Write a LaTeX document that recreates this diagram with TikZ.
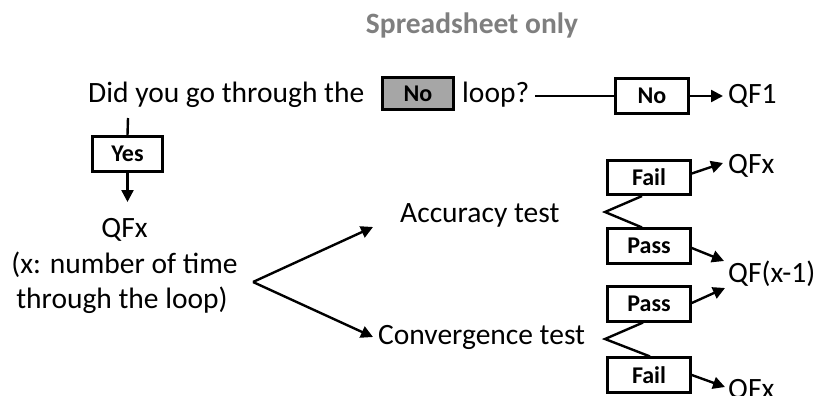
\documentclass[tikz,border=0pt]{standalone}
\usepackage{fontspec}
\setmainfont{Carlito}
\usetikzlibrary{arrows.meta,calc}
\definecolor{boxgray}{HTML}{A6A6A6}
\definecolor{titlegray}{HTML}{7F7F7F}
\begin{document}
\begin{tikzpicture}[x=1pt,y=-1pt,
  txt/.style={font=\fontsize{29.5}{35}\selectfont, inner sep=0pt, anchor=base west},
  ctxt/.style={txt, anchor=base},
  lbl/.style={draw, line width=2.6pt, font=\bfseries\fontsize{24}{28}\selectfont,
    inner sep=0pt},
  smallbox/.style={lbl, minimum width=83pt, minimum height=34.5pt},
  conn/.style={line width=2.4pt},
  arr/.style={conn, -{Triangle[length=12pt,width=12pt]}}]
\useasboundingbox (0,0) rectangle (819,396);
\clip (0,0) rectangle (819,396);

% heading
\node[font=\bfseries\fontsize{29.5}{35}\selectfont, text=titlegray, inner sep=0pt,
  anchor=base] (title) at (472,34) {Spreadsheet only};

% question line
\node[txt] (q) at (88,102) {Did you go through the};
\node[lbl, fill=boxgray, minimum width=71pt, minimum height=32pt] (grayno) at (418,93.5) {No};
\node[txt] (loop) at (462,102) {loop?};
\node[lbl, minimum width=73pt, minimum height=35pt] (no) at (652,96) {No};
\node[txt] (qf1) at (728,103) {QF1};
\draw[conn] (loop.east |- no.west) ++(6,0) -- (no.west);
\draw[arr] (no.east) -- ($(no.east -| qf1.west)+(-5,0)$);

% yes branch
\coordinate (qfoot) at (128,118);
\node[lbl, minimum width=70pt, minimum height=35pt] (yes) at (127.5,154) {Yes};
\node[ctxt] (qfx) at (124.5,237) {QFx};
\node[ctxt] (xdef1) at (124.5,273) {(x: number of time};
\node[ctxt] (xdef2) at (122,308) {through the loop)};
\draw[conn] (qfoot) -- (yes.north);
\draw[arr] (yes.south) -- ($(yes.south |- qfx.base)+(0,-35)$);

% the two tests
\coordinate (fork) at (253,282);
\node[txt] (acc) at (400,222) {Accuracy test};
\node[txt] (conv) at (378,344) {Convergence test};
\coordinate (acctip) at (373,227);
\coordinate (convtip) at (373,337);
\draw[arr] (fork) -- (acctip);
\draw[arr] (fork) -- (convtip);

% outcome boxes
\node[smallbox] (fail1) at (649,177.5) {Fail};
\node[smallbox] (pass1) at (649,246) {Pass};
\node[smallbox] (pass2) at (649,304) {Pass};
\node[smallbox] (fail2) at (649,375) {Fail};

\coordinate (accv) at (605,212);
\coordinate (convv) at (605,339);
\draw[conn] ($(fail1.south)+(-7,0)$) -- (accv) -- ($(pass1.north)+(-7,0)$);
\draw[conn] ($(pass2.south)+(-6,0)$) -- (convv) -- ($(fail2.north)+(1,0)$);

% results
\node[txt] (qfxa) at (728,173) {QFx};
\node[txt] (qfm) at (728,282) {QF(x-1)};
\node[txt] (qfxb) at (728,398) {QFx};
\draw[arr] ($(fail1.east)+(0,-4)$) -- ($(qfxa.base west)+(-5,-10)$);
\draw[arr] ($(pass1.east)+(0,2)$) -- ($(qfm.base west)+(-4,-21)$);
\draw[arr] ($(pass2.east)+(0,-1)$) -- ($(qfm.base west)+(-3,6)$);
\draw[arr] ($(fail2.east)+(0,0)$) -- ($(qfxb.base west)+(-3,-11)$);
\end{tikzpicture}
\end{document}
